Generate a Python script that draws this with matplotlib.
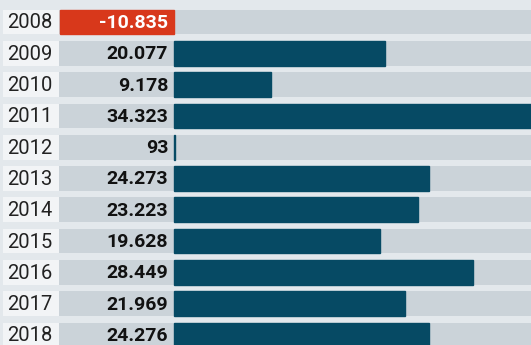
import matplotlib.pyplot as plt
from matplotlib.transforms import blended_transform_factory

years = ['2008', '2009', '2010', '2011', '2012', '2013',
         '2014', '2015', '2016', '2017', '2018']
values = [-10.835, 20.077, 9.178, 34.323, 0.093, 24.273,
          23.223, 19.628, 28.449, 21.969, 24.276]
labels = ['-10.835', '20.077', '9.178', '34.323', '93', '24.273',
          '23.223', '19.628', '28.449', '21.969', '24.276']

BG = '#e3e8ec'
BAND = '#cbd3d9'
CELL = '#f2f4f6'
TEAL = '#064a64'
RED = '#d8381b'

plt.rcParams['font.family'] = ['Roboto', 'DejaVu Sans']

fig = plt.figure(figsize=(5.31, 3.45), dpi=100, facecolor=BG)
ax = fig.add_axes([0, 0, 1, 1])
ax.set_facecolor(BG)

px = 10.52  # pixels per unit
x0 = 174.0  # zero line in pixels
ax.set_xlim(-x0 / px, (531 - x0) / px)
pitch = 31.3
ax.set_ylim((345 - 22) / pitch, -22 / pitch)
ax.axis('off')

trans = blended_transform_factory(ax.transAxes, ax.transData)
h = 0.79

for i, (yr, v, lab) in enumerate(zip(years, values, labels)):
    # year cell and grey band
    ax.barh(i, 56 / 531, left=3 / 531, height=h, color=CELL, transform=trans)
    ax.barh(i, 1 - 59 / 531, left=59 / 531, height=h, color=BAND, transform=trans)
    ax.text(30 / 531, i + 0.03, yr, transform=trans, ha='center', va='center',
            fontsize=14.5, color='#222222')
    col = RED if v < 0 else TEAL
    ax.barh(i, v, height=h, color=col, edgecolor=col, linewidth=1)
    ax.text(-0.55, i + 0.03, lab, ha='right', va='center', fontsize=14,
            fontweight='bold', color='white' if v < 0 else '#111111')

fig.savefig('out.png', dpi=100, facecolor=BG)
